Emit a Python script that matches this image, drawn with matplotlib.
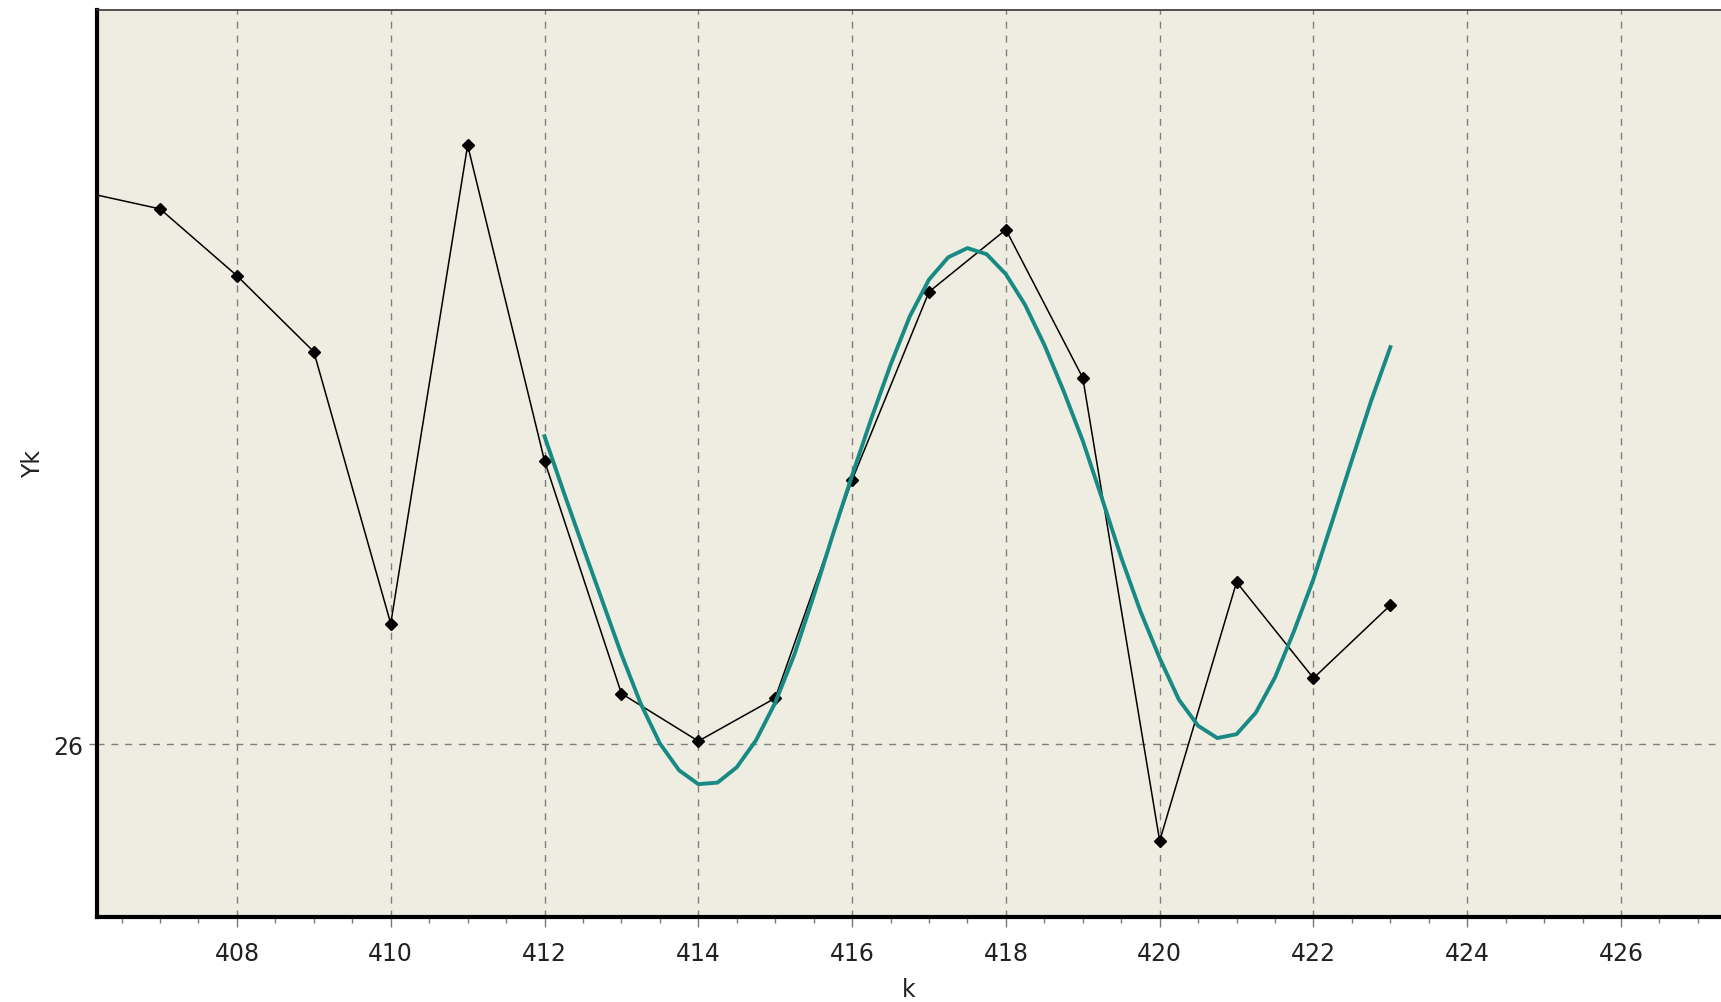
import matplotlib
matplotlib.use("Agg")
import matplotlib.pyplot as plt
from matplotlib.ticker import MultipleLocator, FixedLocator

# observed series Yk
k_obs = [406, 407, 408, 409, 410, 411, 412, 413, 414, 415, 416, 417, 418, 419, 420, 421, 422, 423]
y_obs = [26.719, 26.697, 26.610, 26.511, 26.157, 26.780, 26.369, 26.066, 26.004, 26.060,
         26.344, 26.589, 26.670, 26.477, 25.874, 26.211, 26.086, 26.181]

# fitted curve, every 0.25
k_fit = [412.00, 412.25, 412.50, 412.75, 413.00, 413.25, 413.50, 413.75, 414.00, 414.25,
         414.50, 414.75, 415.00, 415.25, 415.50, 415.75, 416.00, 416.25, 416.50, 416.75,
         417.00, 417.25, 417.50, 417.75, 418.00, 418.25, 418.50, 418.75, 419.00, 419.25,
         419.50, 419.75, 420.00, 420.25, 420.50, 420.75, 421.00, 421.25, 421.50, 421.75,
         422.00, 422.25, 422.50, 422.75, 423.00]
y_fit = [26.401, 26.328, 26.257, 26.187, 26.117, 26.053, 26.001, 25.966, 25.948, 25.950,
         25.970, 26.005, 26.054, 26.117, 26.193, 26.273, 26.350, 26.424, 26.494, 26.557,
         26.605, 26.634, 26.646, 26.638, 26.612, 26.572, 26.520, 26.460, 26.395, 26.320,
         26.243, 26.173, 26.112, 26.058, 26.024, 26.008, 26.013, 26.041, 26.087, 26.148,
         26.215, 26.292, 26.370, 26.447, 26.517]

W, H = 1721, 1003
fig = plt.figure(figsize=(W / 100, H / 100), dpi=100)
ax = fig.add_axes([97 / W, (H - 918) / H, (W - 97) / W, (918 - 11) / H])
ax.set_facecolor("#efece2")

ax.plot(k_obs, y_obs, color="black", linewidth=1.1, marker="D", markersize=6.5,
        markeredgecolor="black", markerfacecolor="black", zorder=3)
ax.plot(k_fit, y_fit, color="#188a84", linewidth=2.8, zorder=4)

ax.set_xlim(406.18, 427.30)
ax.set_ylim(25.775, 26.956)

ax.xaxis.set_major_locator(MultipleLocator(2))
ax.xaxis.set_minor_locator(MultipleLocator(0.5))
ax.yaxis.set_major_locator(FixedLocator([26]))

ax.grid(True, which="major", color="#7f7f7f", linestyle=(0, (5, 5)), linewidth=1.0)

for side in ["left", "bottom"]:
    ax.spines[side].set_linewidth(3)
    ax.spines[side].set_color("black")
ax.spines["top"].set_linewidth(1.2)
ax.spines["top"].set_color("#333333")
ax.spines["right"].set_visible(False)

ax.tick_params(axis="x", which="major", direction="out", length=7, width=1,
               color="#777777", labelsize=17, labelcolor="#222222", pad=10)
ax.tick_params(axis="x", which="minor", direction="out", length=4, width=1,
               color="#777777")
ax.tick_params(axis="y", which="major", direction="out", length=6, width=1,
               color="#777777", labelsize=17, labelcolor="#222222", pad=4)

ax.set_xlabel("k", fontsize=17, color="#222222", labelpad=9)
ax.set_ylabel("Yk", fontsize=17, color="#222222", labelpad=6)

fig.savefig("out.png", dpi=100, facecolor="white")
